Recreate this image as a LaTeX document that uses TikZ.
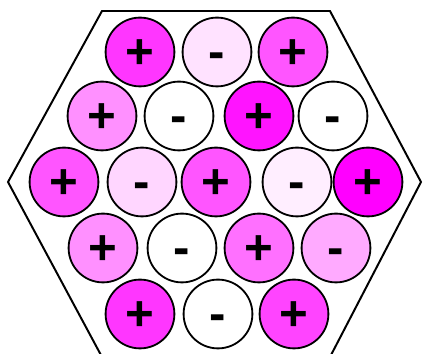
\documentclass[tikz,border=0pt]{standalone}
\usepackage{fontspec}
\setsansfont{Liberation Sans}
\usetikzlibrary{positioning}
\definecolor{magdeep}{HTML}{FF00FF}
\definecolor{magvivid}{HTML}{FF14FF}
\definecolor{magstrong}{HTML}{FF36FF}
\definecolor{magbright}{HTML}{FF44FF}
\definecolor{magmid}{HTML}{FF55FF}
\definecolor{magsoft}{HTML}{FF70FF}
\definecolor{maglight}{HTML}{FF90FF}
\definecolor{magpale}{HTML}{FFAAFF}
\definecolor{magblush}{HTML}{FFD6FF}
\definecolor{magmist}{HTML}{FFE2FF}
\definecolor{magfaint}{HTML}{FFEEFF}
\tikzset{
  ion/.style={circle, draw=black, line width=1.3pt, minimum size=1.72cm,
    inner sep=0pt, font=\sffamily\bfseries\fontsize{35}{40}\selectfont,
    text height=23pt, text depth=0pt},
  cation/.style={ion, fill=#1},
  anion/.style={ion, fill=#1},
  hexline/.style={draw=black, line width=1.4pt, line join=miter}
}

\begin{document}
\begin{tikzpicture}[x=0.025cm, y=-0.025cm]
  \useasboundingbox[fill=white] (0,0) rectangle (424,354);
  % hexagonal cell
  \draw[hexline] (8,182) -- (102,11) -- (330,11) -- (421,182)
    -- (330,357) -- (102,357) -- cycle;

  % row 1
  \node[cation=magstrong] (r1a) at (140,52) {+};
  \node[anion=magmist] (r1b) at (217,52) {-};
  \node[cation=magmid] (r1c) at (293,52) {+};
  % row 2
  \node[cation=maglight] (r2a) at (102,116) {+};
  \node[anion=white] (r2b) at (179,116) {-};
  \node[cation=magvivid] (r2c) at (259,116) {+};
  \node[anion=white] (r2d) at (333,116) {-};
  % row 3
  \node[cation=magmid] (r3a) at (64,182) {+};
  \node[anion=magblush] (r3b) at (142,182) {-};
  \node[cation=magmid] (r3c) at (216,182) {+};
  \node[anion=magfaint] (r3d) at (297,182) {-};
  \node[cation=magdeep] (r3e) at (368,182) {+};
  % row 4
  \node[cation=maglight] (r4a) at (103,248) {+};
  \node[anion=white] (r4b) at (182,248) {-};
  \node[cation=magsoft] (r4c) at (259,248) {+};
  \node[anion=magpale] (r4d) at (336,248) {-};
  % row 5
  \node[cation=magstrong] (r5a) at (140,314) {+};
  \node[anion=white] (r5b) at (218,314) {-};
  \node[cation=magbright] (r5c) at (294,314) {+};
\end{tikzpicture}
\end{document}
